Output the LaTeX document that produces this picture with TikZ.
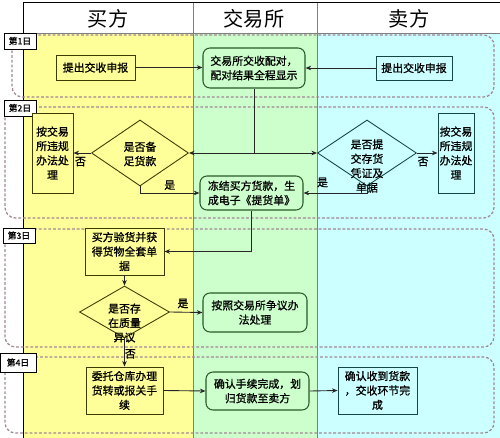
\documentclass[tikz,border=0pt]{standalone}
\usepackage{fontspec}
\usepackage{tikz}
\usetikzlibrary{arrows.meta, positioning, shapes.geometric}
\newfontfamily\cjk{Noto Sans CJK SC}
\newfontfamily\cjkbold[FakeBold=1]{Noto Sans CJK SC}
\definecolor{buyerlane}{RGB}{255,255,153}
\definecolor{xchlane}{RGB}{204,255,204}
\definecolor{sellerlane}{RGB}{204,255,255}
\definecolor{dayline}{RGB}{160,135,150}
\definecolor{buyeredge}{RGB}{60,60,0}
\definecolor{xchedge}{RGB}{40,90,40}
\definecolor{selleredge}{RGB}{20,70,70}

\begin{document}
\begin{tikzpicture}[x=0.2mm, y=-0.2mm, >={Stealth[length=3.2pt, width=2.6pt]},
    boxtext/.style={font=\cjkbold\fontsize{6.2}{8.2}\selectfont, align=center, inner sep=0pt},
    buyerbox/.style={boxtext, draw=buyeredge, fill=buyerlane, line width=0.5pt},
    xchbox/.style={boxtext, draw=xchedge, fill=xchlane, rounded corners=4pt, line width=0.6pt},
    sellerbox/.style={boxtext, draw=selleredge, fill=sellerlane, line width=0.5pt},
    decision/.style={diamond, inner sep=0pt, line width=0.5pt},
    daybox/.style={draw=black, fill=white, line width=0.5pt, inner sep=0pt, font=\cjkbold\fontsize{5}{6}\selectfont},
    dayframe/.style={draw=dayline, line width=0.7pt, dash pattern=on 1.6pt off 1.1pt, rounded corners=6pt},
    flow/.style={->, draw=black!85, line width=0.5pt},
    yesno/.style={font=\cjkbold\fontsize{6.2}{7}\selectfont, inner sep=0pt},
    lanehead/.style={font=\cjk\fontsize{11.5}{13}\selectfont}]
    \useasboundingbox (0,0) rectangle (500,438);

    % Swim lanes
    \fill[buyerlane] (23,33) rectangle (193,438);
    \fill[xchlane] (193,33) rectangle (317,438);
    \fill[sellerlane] (317,33) rectangle (500,438);
    \draw[black!50, line width=0.4pt] (23,33) -- (500,33);
    \draw[black!50, line width=0.4pt] (193,2) -- (193,438);
    \draw[black!50, line width=0.4pt] (317,2) -- (317,438);
    \draw[black, line width=0.5pt] (500,2) -- (23,2) -- (23,438);
    \node[lanehead] (hbuyer) at (108,19) {买方};
    \node[lanehead] (hxch) at (254,19) {交易所};
    \node[lanehead] (hseller) at (409,19) {卖方};

    % Day frames
    \draw[dayframe] (12,35) rectangle (494,97);
    \draw[dayframe] (5,107) rectangle (494,218);
    \draw[dayframe] (5,229) rectangle (494,347);
    \draw[dayframe] (5,357) rectangle (494,433);
    \node[daybox, minimum width=6.4mm, minimum height=3.2mm] (day1) at (20,41) {第1日};
    \node[daybox, minimum width=6.4mm, minimum height=3.2mm] (day2) at (20,108) {第2日};
    \node[daybox, minimum width=6.4mm, minimum height=3.0mm] (day3) at (19,235.5) {第3日};
    \node[daybox, minimum width=7.2mm, minimum height=3.8mm] (day4) at (18,362.5) {第4日};

    % Day 1
    \node[buyerbox, minimum width=15.8mm, minimum height=5mm] (bs) at (95.5,67.5) {提出交收申报};
    \node[xchbox, minimum width=20.4mm, minimum height=8mm] (match) at (254,68) {交易所交收配对，\\配对结果全程显示};
    \node[sellerbox, minimum width=15.2mm, minimum height=4.8mm] (ss) at (414,68) {提出交收申报};
    \draw[flow] (bs.east) -- (bs.east -| match.west);
    \draw[flow] (ss.west) -- (ss.west -| match.east);

    % Day 2
    \node[buyerbox, minimum width=8.2mm, minimum height=16mm] (bv) at (52.5,153) {按交易\\所违规\\办法处\\理};
    \node[decision, draw=buyeredge, minimum width=19.4mm, minimum height=13.2mm] (bd) at (140,153) {};
    \node[boxtext] (bdtext) at (140,154) {是否备\\足货款};
    \node[decision, draw=selleredge, minimum width=19.8mm, minimum height=13.2mm] (sd) at (367,153) {};
    \node[boxtext] (sdtext) at (367,166) {是否提\\交存货\\凭证及\\单据};
    \node[sellerbox, minimum width=7.2mm, minimum height=16mm] (sv) at (456,153) {按交易\\所违规\\办法处\\理};
    \node[xchbox, minimum width=20.6mm, minimum height=6.8mm] (freeze) at (251.5,193) {冻结买方货款，生\\成电子《提货单》};
    \coordinate (split) at (match.south |- bd.east);
    \draw[black!85, line width=0.5pt] (match.south) -- (split);
    \draw[flow] (split) -- (bd.east);
    \draw[flow] (split) -- (sd.west);
    \draw[flow] (bd.west) -- (bv.east) node[yesno, pos=0.6, below=2pt] {否};
    \draw[flow] (sd.east) -- (sv.west) node[yesno, pos=0.3, below=2pt] {否};
    \draw[flow] (bd.south) |- (freeze.west) node[yesno, pos=0.75, above=1.5pt] {是};
    \draw[flow] (sd.south) |- (freeze.east) node[yesno, pos=0.85, above=3pt] {是};

    % Day 3
    \node[buyerbox, minimum width=15.8mm, minimum height=9.4mm] (inspect) at (124.5,251.5) {买方验货并获\\得货物全套单\\据};
    \node[decision, draw=buyeredge, minimum width=18mm, minimum height=10.4mm] (qd) at (124.5,312) {};
    \node[boxtext] (qdtext) at (124.5,323) {是否存\\在质量\\异议};
    \node[xchbox, minimum width=20.8mm, minimum height=7.8mm] (dispute) at (255,312.5) {按照交易所争议办\\法处理};
    \draw[flow] (freeze.south) |- (inspect.east);
    \draw[flow] (inspect.south) -- (qd.north);
    \draw[flow] (qd.east) -- (dispute.west) node[yesno, pos=0.4, above=2pt] {是};

    % Day 4
    \node[buyerbox, minimum width=15.4mm, minimum height=9.4mm] (entrust) at (124.5,390.5) {委托仓库办理\\货转或报关手\\续};
    \node[xchbox, minimum width=20.6mm, minimum height=7.6mm] (confirm) at (257.5,391) {确认手续完成，划\\归货款至卖方};
    \node[sellerbox, minimum width=15.8mm, minimum height=9.4mm] (done) at (377.5,390.5) {确认收到货款\\，交收环节完\\成};
    \draw[flow] (qd.south) -- (entrust.north) node[yesno, pos=0.55, right=0pt] {否};
    \draw[flow] (entrust.east) -- (confirm.west);
    \draw[flow] (confirm.east) -- (done.west);
\end{tikzpicture}
\end{document}
